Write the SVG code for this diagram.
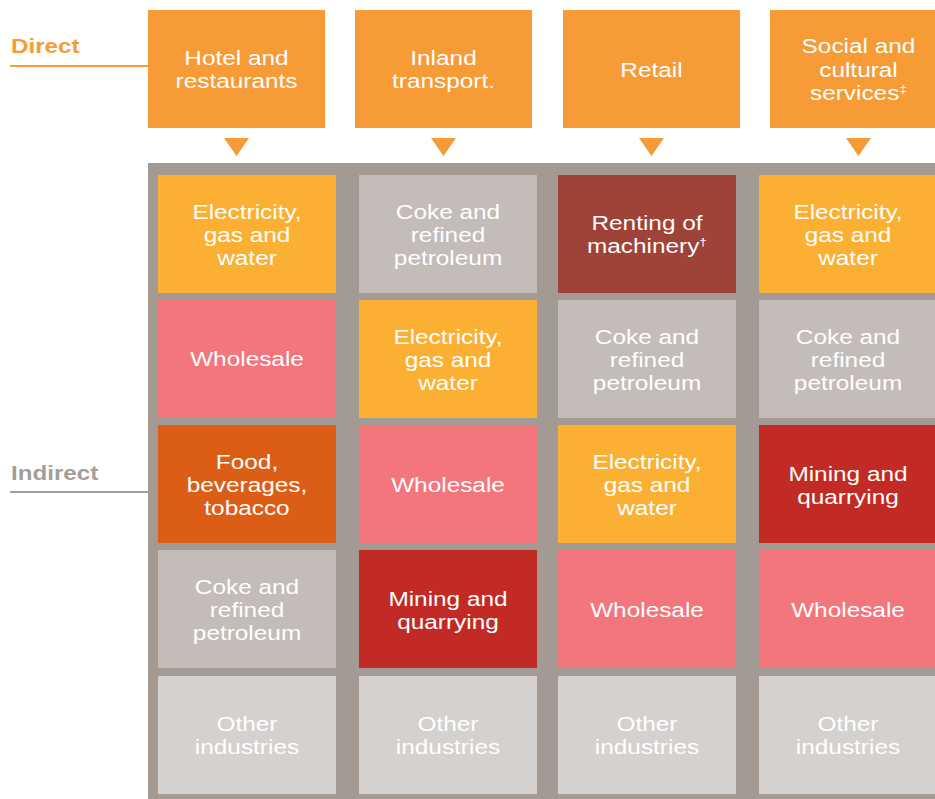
<svg xmlns="http://www.w3.org/2000/svg" width="935" height="799" viewBox="0 0 935 799">
  <style>
    .lbl { font-family: "Liberation Sans", Arial, sans-serif; font-size: 19.5px; fill: #ffffff; text-anchor: middle; }
    .side { font-family: "Liberation Sans", Arial, sans-serif; font-size: 19.5px; font-weight: bold; }
    .sup { font-size: 11px; }
    .top { fill: #f79b36; }
    .elec { fill: #fbb034; }
    .coke { fill: #c4bcb8; }
    .whole { fill: #f2767c; }
    .food { fill: #dc5e16; }
    .mine { fill: #c22b25; }
    .rent { fill: #9f4238; }
    .other { fill: #d5d1ce; }
  </style>
  <rect width="935" height="799" fill="#ffffff"/>

  <!-- side labels -->
  <g id="label-direct">
    <text class="side" fill="#f79b36" transform="translate(11 0) scale(1.24 1)" x="0" y="53">Direct</text>
    <line x1="10" y1="66" x2="148" y2="66" stroke="#f79b36" stroke-width="2"/>
  </g>
  <g id="label-indirect">
    <text class="side" fill="#a59d97" transform="translate(11 0) scale(1.24 1)" x="0" y="480">Indirect</text>
    <line x1="10" y1="492" x2="148" y2="492" stroke="#a59d97" stroke-width="2"/>
  </g>

  <!-- direct sectors -->
  <g id="top-hotel">
    <rect class="top" x="148" y="10" width="177" height="118"/>
    <text class="lbl" transform="translate(236.5 0) scale(1.25 1)"><tspan x="0" y="65">Hotel and</tspan><tspan x="0" y="88">restaurants</tspan></text>
  </g>
  <g id="top-transport">
    <rect class="top" x="355" y="10" width="177" height="118"/>
    <text class="lbl" transform="translate(443.5 0) scale(1.25 1)"><tspan x="0" y="65">Inland</tspan><tspan x="0" y="88">transport.</tspan></text>
  </g>
  <g id="top-retail">
    <rect class="top" x="563" y="10" width="177" height="118"/>
    <text class="lbl" transform="translate(651.5 0) scale(1.25 1)"><tspan x="0" y="77">Retail</tspan></text>
  </g>
  <g id="top-social">
    <rect class="top" x="770" y="10" width="177" height="118"/>
    <text class="lbl" transform="translate(858.5 0) scale(1.25 1)"><tspan x="0" y="53">Social and</tspan><tspan x="0" y="77">cultural</tspan><tspan x="0" y="100">services<tspan class="sup" dy="-7">‡</tspan></tspan></text>
  </g>

  <!-- arrows from direct sectors to the indirect grid -->
  <g id="connectors" fill="#f79b36">
    <polygon points="224,138 249,138 236.5,156"/>
    <polygon points="431,138 456,138 443.5,156"/>
    <polygon points="639,138 664,138 651.5,156"/>
    <polygon points="846,138 871,138 858.5,156"/>
  </g>

  <!-- indirect grid background -->
  <rect id="grid-bg" x="148" y="163" width="787" height="636" fill="#a39a94"/>

  <!-- column 1 -->
  <g id="c1r1"><rect class="elec" x="158" y="175" width="178" height="118"/>
    <text class="lbl" transform="translate(247 0) scale(1.25 1)"><tspan x="0" y="219">Electricity,</tspan><tspan x="0" y="242">gas and</tspan><tspan x="0" y="265">water</tspan></text></g>
  <g id="c1r2"><rect class="whole" x="158" y="300" width="178" height="118"/>
    <text class="lbl" transform="translate(247 0) scale(1.25 1)"><tspan x="0" y="366">Wholesale</tspan></text></g>
  <g id="c1r3"><rect class="food" x="158" y="425" width="178" height="118"/>
    <text class="lbl" transform="translate(247 0) scale(1.25 1)"><tspan x="0" y="469">Food,</tspan><tspan x="0" y="492">beverages,</tspan><tspan x="0" y="515">tobacco</tspan></text></g>
  <g id="c1r4"><rect class="coke" x="158" y="550" width="178" height="118"/>
    <text class="lbl" transform="translate(247 0) scale(1.25 1)"><tspan x="0" y="594">Coke and</tspan><tspan x="0" y="617">refined</tspan><tspan x="0" y="640">petroleum</tspan></text></g>
  <g id="c1r5"><rect class="other" x="158" y="676" width="178" height="118"/>
    <text class="lbl" transform="translate(247 0) scale(1.25 1)"><tspan x="0" y="731">Other</tspan><tspan x="0" y="754">industries</tspan></text></g>

  <!-- column 2 -->
  <g id="c2r1"><rect class="coke" x="359" y="175" width="178" height="118"/>
    <text class="lbl" transform="translate(448 0) scale(1.25 1)"><tspan x="0" y="219">Coke and</tspan><tspan x="0" y="242">refined</tspan><tspan x="0" y="265">petroleum</tspan></text></g>
  <g id="c2r2"><rect class="elec" x="359" y="300" width="178" height="118"/>
    <text class="lbl" transform="translate(448 0) scale(1.25 1)"><tspan x="0" y="344">Electricity,</tspan><tspan x="0" y="367">gas and</tspan><tspan x="0" y="390">water</tspan></text></g>
  <g id="c2r3"><rect class="whole" x="359" y="425" width="178" height="118"/>
    <text class="lbl" transform="translate(448 0) scale(1.25 1)"><tspan x="0" y="492">Wholesale</tspan></text></g>
  <g id="c2r4"><rect class="mine" x="359" y="550" width="178" height="118"/>
    <text class="lbl" transform="translate(448 0) scale(1.25 1)"><tspan x="0" y="606">Mining and</tspan><tspan x="0" y="629">quarrying</tspan></text></g>
  <g id="c2r5"><rect class="other" x="359" y="676" width="178" height="118"/>
    <text class="lbl" transform="translate(448 0) scale(1.25 1)"><tspan x="0" y="731">Other</tspan><tspan x="0" y="754">industries</tspan></text></g>

  <!-- column 3 -->
  <g id="c3r1"><rect class="rent" x="558" y="175" width="178" height="118"/>
    <text class="lbl" transform="translate(647 0) scale(1.25 1)"><tspan x="0" y="230">Renting of</tspan><tspan x="0" y="253">machinery<tspan class="sup" dy="-7">†</tspan></tspan></text></g>
  <g id="c3r2"><rect class="coke" x="558" y="300" width="178" height="118"/>
    <text class="lbl" transform="translate(647 0) scale(1.25 1)"><tspan x="0" y="344">Coke and</tspan><tspan x="0" y="367">refined</tspan><tspan x="0" y="390">petroleum</tspan></text></g>
  <g id="c3r3"><rect class="elec" x="558" y="425" width="178" height="118"/>
    <text class="lbl" transform="translate(647 0) scale(1.25 1)"><tspan x="0" y="469">Electricity,</tspan><tspan x="0" y="492">gas and</tspan><tspan x="0" y="515">water</tspan></text></g>
  <g id="c3r4"><rect class="whole" x="558" y="550" width="178" height="118"/>
    <text class="lbl" transform="translate(647 0) scale(1.25 1)"><tspan x="0" y="617">Wholesale</tspan></text></g>
  <g id="c3r5"><rect class="other" x="558" y="676" width="178" height="118"/>
    <text class="lbl" transform="translate(647 0) scale(1.25 1)"><tspan x="0" y="731">Other</tspan><tspan x="0" y="754">industries</tspan></text></g>

  <!-- column 4 -->
  <g id="c4r1"><rect class="elec" x="759" y="175" width="178" height="118"/>
    <text class="lbl" transform="translate(848 0) scale(1.25 1)"><tspan x="0" y="219">Electricity,</tspan><tspan x="0" y="242">gas and</tspan><tspan x="0" y="265">water</tspan></text></g>
  <g id="c4r2"><rect class="coke" x="759" y="300" width="178" height="118"/>
    <text class="lbl" transform="translate(848 0) scale(1.25 1)"><tspan x="0" y="344">Coke and</tspan><tspan x="0" y="367">refined</tspan><tspan x="0" y="390">petroleum</tspan></text></g>
  <g id="c4r3"><rect class="mine" x="759" y="425" width="178" height="118"/>
    <text class="lbl" transform="translate(848 0) scale(1.25 1)"><tspan x="0" y="481">Mining and</tspan><tspan x="0" y="504">quarrying</tspan></text></g>
  <g id="c4r4"><rect class="whole" x="759" y="550" width="178" height="118"/>
    <text class="lbl" transform="translate(848 0) scale(1.25 1)"><tspan x="0" y="617">Wholesale</tspan></text></g>
  <g id="c4r5"><rect class="other" x="759" y="676" width="178" height="118"/>
    <text class="lbl" transform="translate(848 0) scale(1.25 1)"><tspan x="0" y="731">Other</tspan><tspan x="0" y="754">industries</tspan></text></g>
</svg>
